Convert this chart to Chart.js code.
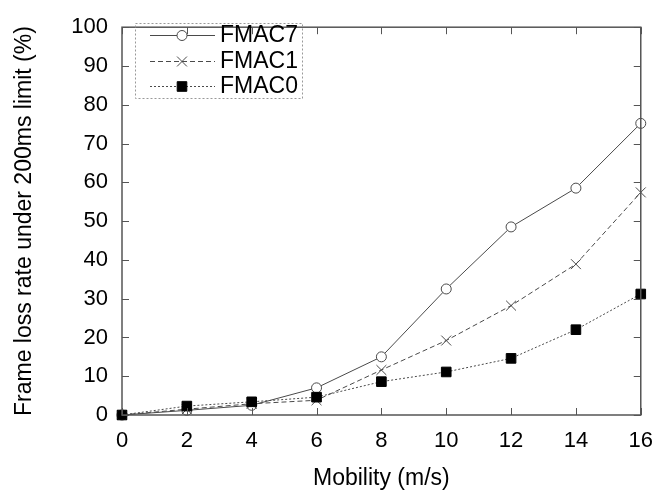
<!DOCTYPE html>
<html>
<head>
<meta charset="utf-8">
<script src="https://cdn.jsdelivr.net/npm/chart.js@4.4.1/dist/chart.umd.min.js"></script>
<style>
  html, body { margin: 0; padding: 0; background: #fff; }
  #wrap { width: 666px; height: 495px; position: relative; }
</style>
</head>
<body>
<div id="wrap"><canvas id="chart" width="666" height="495"></canvas></div>
<script>
// dados
const mobility = [0, 2, 4, 6, 8, 10, 12, 14, 16];
const fmac7 = [0, 1.2, 2.5, 7.0, 15.0, 32.5, 48.5, 58.5, 75.2];
const fmac1 = [0, 1.5, 2.9, 3.8, 11.6, 19.2, 28.2, 38.9, 57.4];
const fmac0 = [0, 2.3, 3.4, 4.6, 8.6, 11.1, 14.6, 22.0, 31.2];
const seriesNames = ['FMAC7', 'FMAC1', 'FMAC0'];
const xTicks = [0, 2, 4, 6, 8, 10, 12, 14, 16];
const yTicks = [0, 10, 20, 30, 40, 50, 60, 70, 80, 90, 100];

const FONT = 'Liberation Sans, Arial, sans-serif';
const lineColor = '#4a4a4a';
const frameColor = '#555';

const toPoints = vals => mobility.map((x, i) => ({x: x, y: vals[i]}));

const styles = [
    {dash: [], pointStyle: 'circle', radius: 5, fill: '#fff', border: lineColor},
    {dash: [5, 3], pointStyle: 'crossRot', radius: 7, fill: lineColor, border: lineColor},
    {dash: [2, 2], pointStyle: 'rect', radius: 6.8, fill: '#000', border: '#000'}
];

// moldura, ticks internos e legenda
const framePlugin = {
    id: 'frame',
    afterDatasetsDraw(chart) {
        const ctx = chart.ctx;
        const a = chart.chartArea;
        const xs = chart.scales.x, ys = chart.scales.y;
        ctx.save();
        ctx.strokeStyle = frameColor;
        ctx.lineWidth = 1.5;
        ctx.setLineDash([]);
        ctx.strokeRect(a.left, a.top, a.right - a.left, a.bottom - a.top);
        ctx.lineWidth = 1;
        ctx.beginPath();
        xTicks.forEach(v => {
            const px = Math.round(xs.getPixelForValue(v)) + 0.5;
            ctx.moveTo(px, a.bottom); ctx.lineTo(px, a.bottom - 7);
            ctx.moveTo(px, a.top); ctx.lineTo(px, a.top + 7);
        });
        yTicks.forEach(v => {
            const py = Math.round(ys.getPixelForValue(v)) + 0.5;
            ctx.moveTo(a.left, py); ctx.lineTo(a.left + 7, py);
            ctx.moveTo(a.right, py); ctx.lineTo(a.right - 7, py);
        });
        ctx.stroke();

        // legenda
        ctx.strokeStyle = '#999';
        ctx.setLineDash([2, 2]);
        ctx.strokeRect(135.5, 23.5, 167, 75);
        const rows = [35, 61, 86];
        ctx.font = '23px ' + FONT;
        ctx.textBaseline = 'middle';
        ctx.textAlign = 'left';
        seriesNames.forEach((name, i) => {
            const st = styles[i];
            const y = rows[i] + 0.5;
            ctx.strokeStyle = lineColor;
            ctx.lineWidth = 1;
            ctx.setLineDash(st.dash);
            ctx.beginPath();
            ctx.moveTo(150, y);
            ctx.lineTo(215, y);
            ctx.stroke();
            ctx.setLineDash([]);
            ctx.fillStyle = st.fill;
            ctx.strokeStyle = st.border;
            ctx.beginPath();
            if (st.pointStyle === 'circle') {
                ctx.arc(182, y, st.radius, 0, Math.PI * 2);
                ctx.fill(); ctx.stroke();
            } else if (st.pointStyle === 'rect') {
                const s = st.radius * Math.SQRT1_2;
                ctx.rect(182 - s, y - s, 2 * s, 2 * s);
                ctx.fill(); ctx.stroke();
            } else {
                const o = st.radius * Math.SQRT1_2;
                ctx.moveTo(182 - o, y - o); ctx.lineTo(182 + o, y + o);
                ctx.moveTo(182 - o, y + o); ctx.lineTo(182 + o, y - o);
                ctx.stroke();
            }
            ctx.fillStyle = '#000';
            ctx.fillText(name, 220, rows[i] + 1);
        });
        ctx.restore();
    }
};

const datasets = [fmac7, fmac1, fmac0].map((vals, i) => ({
    label: seriesNames[i],
    data: toPoints(vals),
    borderColor: lineColor,
    borderWidth: 1,
    borderDash: styles[i].dash,
    pointStyle: styles[i].pointStyle,
    pointRadius: styles[i].radius,
    pointBackgroundColor: styles[i].fill,
    pointBorderColor: styles[i].border,
    pointBorderWidth: 1,
    showLine: true,
    tension: 0,
    clip: false,
    order: 2 - i
}));

new Chart(document.getElementById('chart').getContext('2d'), {
    type: 'scatter',
    data: {datasets: datasets},
    plugins: [framePlugin],
    options: {
        responsive: false,
        animation: false,
        events: [],
        layout: {padding: {top: 17, right: 24, left: 0, bottom: 0}},
        plugins: {legend: {display: false}, tooltip: {enabled: false}},
        scales: {
            x: {
                type: 'linear', min: 0, max: 16,
                afterFit: s => { s.height = 80; },
                afterBuildTicks: s => { s.ticks = xTicks.map(v => ({value: v})); },
                grid: {display: false, drawTicks: false},
                border: {display: false},
                ticks: {color: '#000', padding: 13, maxRotation: 0, font: {family: FONT, size: 22}},
                title: {display: true, text: 'Mobility (m/s)', color: '#000',
                    padding: {top: 0, bottom: 3}, font: {family: FONT, size: 23, lineHeight: 1.2}}
            },
            y: {
                type: 'linear', min: 0, max: 100,
                afterFit: s => { s.width = 122; },
                afterBuildTicks: s => { s.ticks = yTicks.map(v => ({value: v})); },
                grid: {display: false, drawTicks: false},
                border: {display: false},
                ticks: {color: '#000', padding: 14, font: {family: FONT, size: 22}},
                title: {display: true, text: 'Frame loss rate under 200ms limit (%)', color: '#000',
                    padding: {top: 11, bottom: 0}, font: {family: FONT, size: 23, lineHeight: 1.2}}
            }
        }
    }
});
</script>
</body>
</html>
